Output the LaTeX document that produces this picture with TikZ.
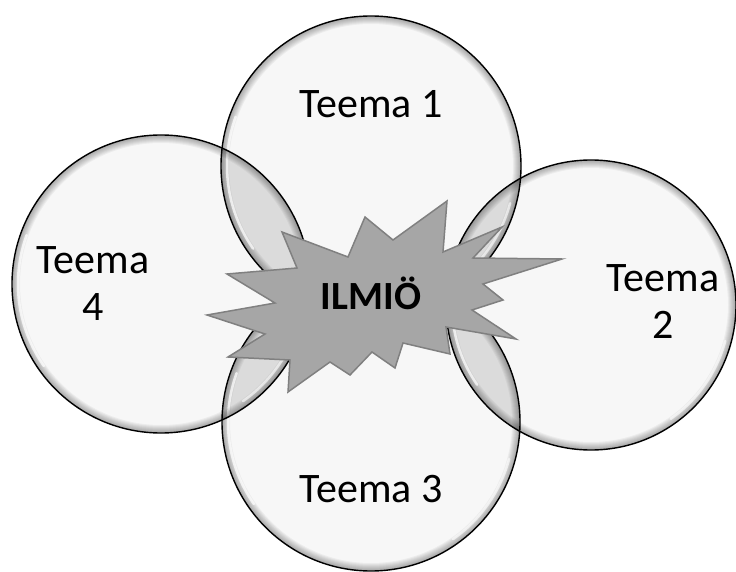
\documentclass[tikz,border=0pt]{standalone}
\usepackage{fontspec}
\setmainfont{Carlito}
\def\teemanode{\node[align=center,font=\fontsize{42}{47}\selectfont]}

\begin{document}
\begin{tikzpicture}[x=1pt,y=-1pt]
\useasboundingbox[fill=white] (0,0) rectangle (736,572);
\coordinate (c1) at (371,166);
\coordinate (c2) at (591,305);
\coordinate (c3) at (371,422);
\coordinate (c4) at (161,284);
% pallot
\foreach \c/\r in {c1/150,c2/145,c3/149,c4/149}
  \fill[black!3] (\c) circle (\r pt);
\foreach \a/\ra/\b/\rb in {c1/150/c4/149,c1/150/c2/145,c3/149/c4/149,c3/149/c2/145}{
  \begin{scope}
    \clip (\a) circle (\ra pt);
    \fill[black!14] (\b) circle (\rb pt);
  \end{scope}
}
\foreach \c/\r in {c1/150,c2/145,c3/149,c4/149}{
  \begin{scope}
    \clip (\c) circle (\r pt);
    \foreach \w in {2,4,...,16}
      \draw[black,draw opacity=0.045,line width=\w pt] (\c) circle (\r pt);
    \draw[white,draw opacity=0.7,line width=2.5pt,line cap=round] (\c) ++(160:\r pt-6pt) arc[start angle=160,end angle=215,radius=\r pt-6pt];
    \draw[white,draw opacity=0.6,line width=2.5pt,line cap=round] (\c) ++(305:\r pt-6pt) arc[start angle=305,end angle=345,radius=\r pt-6pt];
  \end{scope}
}
\foreach \c/\r in {c1/150,c2/145,c3/149,c4/149}
  \draw[line width=1.4pt] (\c) circle (\r pt);
% tahti
\draw[fill=black!35,draw=black!50,line width=1.5pt]
  (207,315) -- (275,303) -- (227,274) -- (297,268) -- (282,232) -- (348,257)
  -- (365,217) -- (393,240) -- (447,201) -- (443,252) -- (502,227) -- (473,258)
  -- (562,259) -- (483,284) -- (503,300) -- (472,310) -- (516,339) -- (446,327)
  -- (450,354) -- (403,343) -- (395,368) -- (372,352) -- (350,375) -- (330,362)
  -- (288,392) -- (290,360) -- (228,357) -- (265,334) -- cycle;
\node[anchor=base,font=\fontsize{40}{47}\selectfont\bfseries] (ilmio) at (371,309) {ILMIÖ};
\teemanode (t1) at (371,104) {Teema 1};
\teemanode (t2) at (663,302) {Teema\\2};
\teemanode (t3) at (371,489) {Teema 3};
\teemanode (t4) at (93,284) {Teema\\4};
\end{tikzpicture}
\end{document}
